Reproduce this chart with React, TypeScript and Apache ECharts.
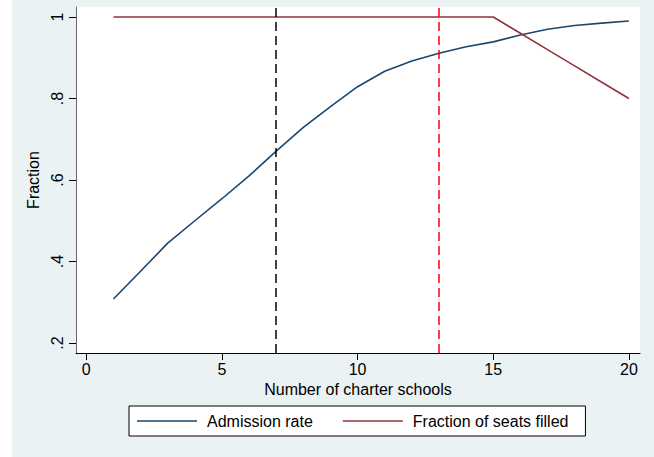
import React, { useEffect, useRef } from 'react';
import * as echarts from 'echarts';

const schools = [1, 2, 3, 4, 5, 6, 7, 8, 9, 10, 11, 12, 13, 14, 15, 16, 17, 18, 19, 20];
const admissionRate = [0.308, 0.376, 0.445, 0.5, 0.554, 0.61, 0.671, 0.729, 0.78, 0.829, 0.867, 0.892, 0.911, 0.927, 0.939, 0.956, 0.97, 0.979, 0.985, 0.99];
const seatsFilled = [1, 1, 1, 1, 1, 1, 1, 1, 1, 1, 1, 1, 1, 1, 1, 0.96, 0.92, 0.88, 0.84, 0.8];
const xTicks = [0, 5, 10, 15, 20];
const yTicks = [0.2, 0.4, 0.6, 0.8, 1];
const yTickLabels = ['.2', '.4', '.6', '.8', '1'];
const cutoffBlack = 7;
const cutoffRed = 13;

const FONT = 'Liberation Sans, Arial, Helvetica, sans-serif';

export default function App() {
  const ref = useRef<HTMLDivElement>(null);
  useEffect(() => {
    if (!ref.current) return;
    const chart = echarts.init(ref.current, null, { renderer: 'svg' });
    chart.setOption({
      animation: false,
      backgroundColor: '#EAF2F3',
      textStyle: { fontFamily: FONT },
      grid: {
        left: 64,
        top: 7,
        right: 14,
        bottom: 104,
        show: true,
        backgroundColor: '#ffffff',
        borderWidth: 0,
      },
      xAxis: {
        type: 'value',
        min: -0.38,
        max: 20.41,
        name: 'Number of charter schools',
        nameLocation: 'middle',
        nameGap: 24,
        nameTextStyle: { fontSize: 16, color: '#000', fontFamily: FONT },
        axisLine: { show: true, onZero: false, lineStyle: { color: '#000', width: 1 } },
        axisTick: { show: true, length: 7, customValues: xTicks, lineStyle: { color: '#000' } },
        axisLabel: { customValues: xTicks, fontSize: 16, color: '#000', margin: 8, fontFamily: FONT },
        splitLine: { show: false },
      },
      yAxis: {
        type: 'value',
        min: 0.17546,
        max: 1.02454,
        name: 'Fraction',
        nameLocation: 'middle',
        nameGap: 27,
        nameTextStyle: { fontSize: 16, color: '#000', fontFamily: FONT },
        axisLine: { show: true, onZero: false, lineStyle: { color: '#666', width: 1 } },
        axisTick: { show: true, length: 7, customValues: yTicks, lineStyle: { color: '#000' } },
        axisLabel: {
          customValues: yTicks,
          rotate: 90,
          fontSize: 16,
          color: '#000',
          margin: 11,
          fontFamily: FONT,
          formatter: (v: number) => {
            const i = yTicks.findIndex((t) => Math.abs(t - v) < 1e-6);
            return i >= 0 ? yTickLabels[i] : '';
          },
        },
        splitLine: { show: false },
      },
      legend: {
        left: 117,
        top: 406,
        orient: 'horizontal',
        selectedMode: false,
        backgroundColor: '#ffffff',
        borderColor: '#000',
        borderWidth: 1,
        borderRadius: 0,
        padding: [7, 17, 7, 8],
        itemGap: 30,
        itemWidth: 60,
        itemHeight: 1.5,
        icon: 'rect',
        textStyle: { fontSize: 16, color: '#000', fontFamily: FONT, padding: [0, 0, 0, 5] },
        data: ['Admission rate', 'Fraction of seats filled'],
      },
      series: [
        {
          name: 'Admission rate',
          type: 'line',
          symbol: 'none',
          color: '#1a476f',
          lineStyle: { color: '#1a476f', width: 1.6 },
          data: schools.map((x, i) => [x, admissionRate[i]]),
          markLine: {
            silent: true,
            symbol: ['none', 'none'],
            label: { show: false },
            data: [
              { xAxis: cutoffBlack, lineStyle: { color: '#000', type: [9, 5], width: 1.5 } },
              { xAxis: cutoffRed, lineStyle: { color: '#ff0000', type: [9, 5], width: 1.5 } },
            ],
          },
        },
        {
          name: 'Fraction of seats filled',
          type: 'line',
          symbol: 'none',
          color: '#90353b',
          lineStyle: { color: '#90353b', width: 1.6 },
          data: schools.map((x, i) => [x, seatsFilled[i]]),
        },
      ],
    });
    return () => chart.dispose();
  }, []);
  return (
    <div
      ref={ref}
      style={{ position: 'fixed', left: 12, top: 0, width: 642, height: 457 }}
    />
  );
}
